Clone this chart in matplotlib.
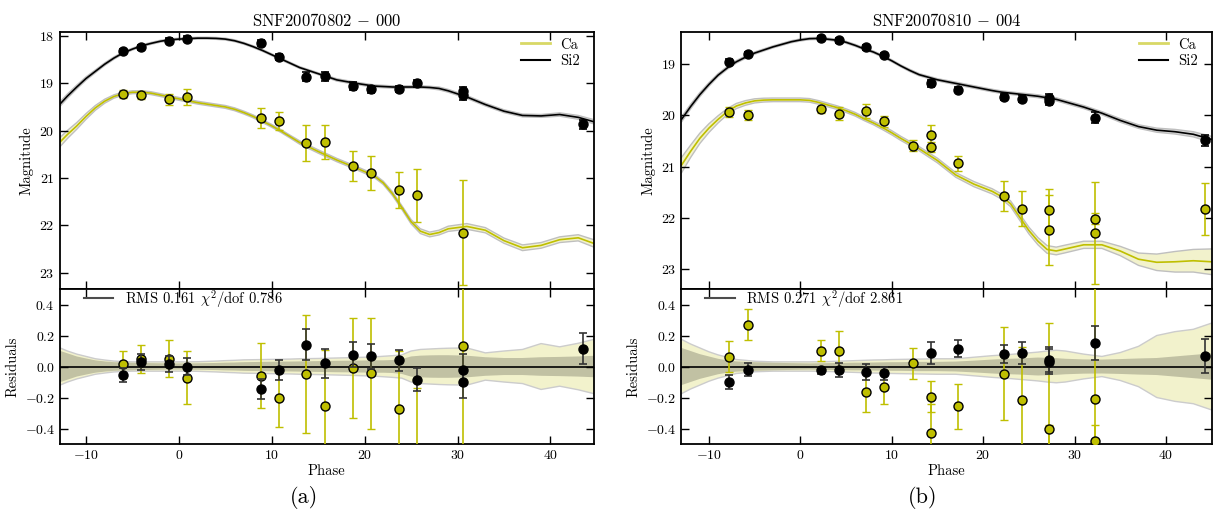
import numpy as np
import matplotlib
matplotlib.use("Agg")
import matplotlib.pyplot as plt

plt.rcParams.update({
    'font.family': 'serif',
    'font.serif': ['cmr10', 'DejaVu Serif'],
    'mathtext.fontset': 'cm',
    'axes.formatter.use_mathtext': True,
    'axes.unicode_minus': True,
})

# ---------------- model grid (phase) ----------------
grid = [-13, -12, -11, -10, -9, -8, -7, -6, -5, -4, -3, -2, -1, 0, 1, 2, 3, 4, 5, 6, 7, 8, 9, 10,
        11, 12, 13, 15, 17, 19, 21, 22, 23, 24, 25, 26, 27, 28, 29, 31, 33, 35, 37, 39, 41, 43, 45]

# ---------------- panel (a) SNF20070802-000 ----------------
a_title = r'SNF20070802 $-$ 000'
a_si_model = [19.48, 19.27, 19.08, 18.90, 18.75, 18.60, 18.47, 18.36, 18.28, 18.21, 18.16, 18.115,
              18.085, 18.07, 18.06, 18.05, 18.05, 18.055, 18.07, 18.105, 18.16, 18.23, 18.31, 18.40,
              18.49, 18.58, 18.67,
              18.80, 18.93, 19.00, 19.06, 19.07, 19.08, 19.08, 19.08, 19.08, 19.09, 19.11, 19.16,
              19.29, 19.45, 19.59, 19.68, 19.69, 19.66, 19.72, 19.83]
a_ca_model = [20.28, 20.08, 19.90, 19.70, 19.52, 19.38, 19.28, 19.22, 19.19, 19.19, 19.21, 19.25,
              19.29, 19.33, 19.37, 19.41, 19.44, 19.47, 19.50, 19.55, 19.62, 19.70, 19.80, 19.90,
              20.01, 20.13, 20.25,
              20.44, 20.62, 20.78, 20.95, 21.10, 21.33, 21.62, 21.92, 22.12, 22.19, 22.15, 22.07,
              22.02, 22.10, 22.32, 22.47, 22.42, 22.30, 22.26, 22.40]
a_si_band = [0.05, 0.045, 0.04, 0.035, 0.03, 0.028, 0.025, 0.022, 0.02, 0.02, 0.02, 0.02, 0.02,
             0.02, 0.02, 0.02, 0.02, 0.02, 0.02, 0.02, 0.02, 0.02, 0.02, 0.02, 0.02, 0.02, 0.02,
             0.02, 0.025, 0.025, 0.025, 0.025, 0.025, 0.025, 0.025, 0.025, 0.025, 0.03, 0.03,
             0.03, 0.03, 0.03, 0.03, 0.03, 0.035, 0.04, 0.045]
a_ca_band = [0.10, 0.085, 0.07, 0.06, 0.05, 0.042, 0.035, 0.032, 0.03, 0.03, 0.03, 0.03, 0.03,
             0.03, 0.03, 0.03, 0.03, 0.03, 0.03, 0.03, 0.03, 0.03, 0.03, 0.03, 0.03, 0.03, 0.035,
             0.035, 0.035, 0.035, 0.035, 0.035, 0.04, 0.04, 0.045, 0.05, 0.05, 0.05, 0.055,
             0.06, 0.055, 0.055, 0.06, 0.06, 0.06, 0.065, 0.08]
a_ca_rband = [0.125, 0.10, 0.08, 0.065, 0.05, 0.042, 0.035, 0.032, 0.03, 0.03, 0.03, 0.03, 0.03,
              0.03, 0.03, 0.031, 0.033, 0.035, 0.038, 0.04, 0.043, 0.044, 0.045, 0.046, 0.047,
              0.048, 0.05,
              0.052, 0.055, 0.058, 0.062, 0.066, 0.07, 0.075, 0.10, 0.11, 0.113, 0.116, 0.118,
              0.12, 0.088, 0.10, 0.11, 0.148, 0.127, 0.15, 0.18]
a_si_rband = [0.105, 0.085, 0.065, 0.052, 0.04, 0.033, 0.028, 0.026, 0.024, 0.023, 0.022, 0.021,
              0.02, 0.02, 0.02, 0.021, 0.022, 0.023, 0.025, 0.026, 0.028, 0.029, 0.03, 0.031,
              0.032, 0.032, 0.033,
              0.035, 0.037, 0.038, 0.04, 0.04, 0.042, 0.048, 0.065, 0.07, 0.072, 0.073, 0.073,
              0.07, 0.06, 0.055, 0.055, 0.06, 0.062, 0.065, 0.07]

a_si_phase = [-6.05, -4.07, -1.1, 0.86, 8.8, 10.8, 13.7, 15.7, 18.7, 20.7, 23.7, 25.6, 30.6, 30.6, 43.5]
a_si_mag = [18.32, 18.24, 18.10, 18.06, 18.15, 18.45, 18.86, 18.85, 19.06, 19.13, 19.12, 19.00,
            19.17, 19.25, 19.87]
a_si_err = [0.045, 0.05, 0.05, 0.055, 0.065, 0.065, 0.10, 0.095, 0.08, 0.08, 0.07, 0.075, 0.10, 0.10, 0.10]
a_si_res = [-0.052, 0.028, 0.015, -0.002, -0.144, -0.024, 0.142, 0.021, 0.075, 0.067, 0.039,
            -0.084, -0.10, -0.02, 0.116]

a_ca_phase = [-6.05, -4.07, -1.1, 0.86, 8.8, 10.8, 13.7, 15.7, 18.7, 20.7, 23.7, 25.6, 30.6]
a_ca_mag = [19.23, 19.25, 19.34, 19.30, 19.73, 19.79, 20.27, 20.24, 20.75, 20.89, 21.25, 21.36, 22.15]
a_ca_err = [0.09, 0.09, 0.12, 0.17, 0.21, 0.19, 0.38, 0.36, 0.32, 0.36, 0.38, 0.56, 1.1]
a_ca_res = [0.013, 0.05, 0.05, -0.073, -0.06, -0.20, -0.047, -0.254, -0.009, -0.045, -0.277, -0.70, 0.13]
a_stats = r'RMS 0.161 $\chi^2$/dof 0.786'

# ---------------- panel (b) SNF20070810-004 ----------------
b_title = r'SNF20070810 $-$ 004'
b_si_model = [20.08, 19.83, 19.60, 19.40, 19.22, 19.08, 18.96, 18.87, 18.79, 18.73, 18.67, 18.62,
              18.57, 18.535, 18.51, 18.505, 18.52, 18.54, 18.58, 18.64, 18.71, 18.77, 18.85, 18.94,
              19.04, 19.13, 19.21,
              19.31, 19.38, 19.45, 19.52, 19.55, 19.57, 19.59, 19.61, 19.63, 19.66, 19.69, 19.74,
              19.84, 19.96, 20.10, 20.22, 20.29, 20.32, 20.37, 20.47]
b_ca_model = [20.97, 20.70, 20.45, 20.25, 20.08, 19.93, 19.82, 19.76, 19.72, 19.705, 19.70, 19.70,
              19.70, 19.70, 19.71, 19.75, 19.80, 19.85, 19.91, 19.98, 20.07, 20.15, 20.24, 20.34,
              20.45, 20.55, 20.65,
              20.88, 21.16, 21.34, 21.48, 21.58, 21.72, 21.98, 22.24, 22.45, 22.61, 22.64, 22.60,
              22.52, 22.52, 22.64, 22.80, 22.86, 22.85, 22.83, 22.85]
b_si_band = [0.05, 0.045, 0.04, 0.035, 0.03, 0.028, 0.025, 0.024, 0.022, 0.021, 0.02, 0.02, 0.02,
             0.02, 0.02, 0.02, 0.02, 0.02, 0.02, 0.02, 0.02, 0.02, 0.02, 0.02, 0.02, 0.022, 0.022,
             0.022, 0.025, 0.025, 0.025, 0.025, 0.025, 0.025, 0.028, 0.028, 0.03, 0.03, 0.03,
             0.03, 0.03, 0.035, 0.035, 0.04, 0.045, 0.05, 0.06]
b_ca_band = [0.15, 0.12, 0.10, 0.085, 0.07, 0.06, 0.05, 0.045, 0.04, 0.037, 0.035, 0.035, 0.035,
             0.035, 0.035, 0.035, 0.035, 0.035, 0.035, 0.035, 0.035, 0.035, 0.04, 0.04, 0.04,
             0.04, 0.04,
             0.045, 0.045, 0.05, 0.05, 0.05, 0.055, 0.06, 0.065, 0.07, 0.075, 0.075, 0.075,
             0.07, 0.07, 0.09, 0.12, 0.16, 0.20, 0.22, 0.25]
b_ca_rband = [0.175, 0.145, 0.12, 0.095, 0.075, 0.06, 0.045, 0.04, 0.034, 0.032, 0.03, 0.03, 0.03,
              0.03, 0.03, 0.031, 0.032, 0.034, 0.036, 0.038, 0.04, 0.042, 0.043, 0.045, 0.046,
              0.047, 0.048,
              0.05, 0.05, 0.06, 0.07, 0.074, 0.078, 0.083, 0.088, 0.093, 0.10, 0.105, 0.10,
              0.08, 0.065, 0.09, 0.13, 0.20, 0.225, 0.24, 0.28]
b_si_rband = [0.12, 0.10, 0.08, 0.065, 0.05, 0.04, 0.033, 0.03, 0.028, 0.026, 0.024, 0.023, 0.022,
              0.021, 0.02, 0.021, 0.022, 0.023, 0.024, 0.025, 0.025, 0.026, 0.027, 0.028, 0.028,
              0.029, 0.03,
              0.03, 0.032, 0.038, 0.045, 0.048, 0.05, 0.052, 0.055, 0.058, 0.056, 0.054, 0.05,
              0.046, 0.045, 0.048, 0.052, 0.055, 0.065, 0.075, 0.085]

b_si_phase = [-7.76, -5.74, 2.24, 4.26, 7.2, 9.2, 14.26, 17.26, 22.28, 24.26, 27.26, 27.26, 32.28, 44.26]
b_si_mag = [18.96, 18.81, 18.49, 18.54, 18.68, 18.82, 19.38, 19.50, 19.64, 19.68, 19.67, 19.72,
            20.05, 20.49]
b_si_err = [0.045, 0.04, 0.025, 0.045, 0.05, 0.04, 0.07, 0.055, 0.06, 0.07, 0.08, 0.08, 0.11, 0.11]
b_si_res = [-0.10, -0.02, -0.025, -0.025, -0.035, -0.045, 0.085, 0.115, 0.08, 0.085, 0.045, 0.03,
            0.15, 0.07]

b_ca_phase = [-7.76, -5.74, 2.24, 4.26, 7.2, 9.2, 12.28, 14.26, 14.26, 17.26, 22.28, 24.26,
              27.26, 27.26, 32.28, 32.28, 44.26]
b_ca_mag = [19.94, 19.99, 19.88, 19.97, 19.92, 20.12, 20.59, 20.38, 20.62, 20.93, 21.57, 21.82,
            21.84, 22.23, 22.01, 22.29, 21.82]
b_ca_err = [0.10, 0.10, 0.07, 0.13, 0.13, 0.11, 0.10, 0.19, 0.10, 0.145, 0.30, 0.34, 0.40, 0.68,
            0.10, 1.0, 0.50]
b_ca_res = [0.062, 0.27, 0.103, 0.10, -0.165, -0.135, 0.02, -0.43, -0.195, -0.255, -0.048, -0.215,
            -0.78, -0.40, -0.48, -0.21, -1.02]
b_stats = r'RMS 0.271 $\chi^2$/dof 2.861'

panels = [
    dict(title=a_title, si_model=a_si_model, ca_model=a_ca_model, si_band=a_si_band, ca_band=a_ca_band,
         si_rband=a_si_rband, ca_rband=a_ca_rband, si_phase=a_si_phase, si_mag=a_si_mag, si_err=a_si_err,
         si_res=a_si_res, ca_phase=a_ca_phase, ca_mag=a_ca_mag, ca_err=a_ca_err, ca_res=a_ca_res,
         stats=a_stats, xlim=(-12.85, 44.7), ylim=(23.34, 17.92), yticks=[18, 19, 20, 21, 22, 23],
         left=0.0491, width=0.4402, caption='(a)', cx=0.25),
    dict(title=b_title, si_model=b_si_model, ca_model=b_ca_model, si_band=b_si_band, ca_band=b_ca_band,
         si_rband=b_si_rband, ca_rband=b_ca_rband, si_phase=b_si_phase, si_mag=b_si_mag, si_err=b_si_err,
         si_res=b_si_res, ca_phase=b_ca_phase, ca_mag=b_ca_mag, ca_err=b_ca_err, ca_res=b_ca_res,
         stats=b_stats, xlim=(-13.05, 45.05), ylim=(23.38, 18.38), yticks=[19, 20, 21, 22, 23],
         left=0.5610, width=0.4374, caption='(b)', cx=0.76),
]

fig = plt.figure(figsize=(12.14, 5.11), dpi=100)

Y = 'y'
top_b, top_h = 0.4344, 0.5030
bot_b, bot_h = 0.1311, 0.3033


def style(ax):
    ax.tick_params(direction='in', top=True, right=True, length=5.5, width=1, labelsize=10)
    for s in ax.spines.values():
        s.set_linewidth(1.3)


for p in panels:
    g = np.array(grid)
    axt = fig.add_axes([p['left'], top_b, p['width'], top_h])
    axb = fig.add_axes([p['left'], bot_b, p['width'], bot_h], sharex=axt)

    # ----- top: light curves -----
    sm = np.array(p['si_model']); sb = np.array(p['si_band'])
    cm = np.array(p['ca_model']); cb = np.array(p['ca_band'])
    axt.fill_between(g, cm - cb, cm + cb, facecolor=Y, alpha=0.2, edgecolor='none', zorder=1)
    axt.plot(g, cm - cb, color='0.75', lw=1, zorder=1)
    axt.plot(g, cm + cb, color='0.75', lw=1, zorder=1)
    axt.fill_between(g, sm - sb, sm + sb, facecolor='k', alpha=0.15, edgecolor='none', zorder=1)
    axt.plot(g, sm - sb, color='0.75', lw=1, zorder=1)
    axt.plot(g, sm + sb, color='0.75', lw=1, zorder=1)
    axt.plot(g, cm, color=Y, lw=1.2, zorder=2)
    axt.plot(g, sm, color='k', lw=1.2, zorder=2)

    axt.errorbar(p['ca_phase'], p['ca_mag'], yerr=p['ca_err'], fmt='o', color=Y, mfc=Y, mec='k',
                 mew=1, ms=6.5, ecolor=Y, elinewidth=1.2, capsize=3, capthick=1.2, zorder=3)
    axt.errorbar(p['si_phase'], p['si_mag'], yerr=p['si_err'], fmt='o', color='k', mfc='k', mec='k',
                 ms=6.5, ecolor='k', elinewidth=1.2, capsize=3, capthick=1.2, zorder=3)

    h1, = axt.plot([], [], color=Y, lw=2, alpha=0.6, label='Ca')
    h2, = axt.plot([], [], color='k', lw=1.5, label='Si2')
    axt.legend(handles=[h1, h2], loc='upper right', bbox_to_anchor=(0.985, 1.0), borderaxespad=0,
               frameon=False, fontsize=10.5, handlelength=2.0, handletextpad=0.7, labelspacing=0.2)

    axt.set_xlim(*p['xlim'])
    axt.set_ylim(*p['ylim'])
    axt.set_yticks(p['yticks'])
    axt.set_xticks([-10, 0, 10, 20, 30, 40])
    axt.set_ylabel('Magnitude', fontsize=10.5)
    axt.set_title(p['title'], fontsize=12, pad=4)
    style(axt)
    axt.tick_params(labelbottom=False)

    # ----- bottom: residuals -----
    crb = np.array(p['ca_rband']); srb = np.array(p['si_rband'])
    axb.fill_between(g, -crb, crb, facecolor=Y, alpha=0.2, edgecolor='none', zorder=1)
    axb.plot(g, -crb, color='0.8', lw=1, zorder=1)
    axb.plot(g, crb, color='0.8', lw=1, zorder=1)
    axb.fill_between(g, -srb, srb, facecolor='k', alpha=0.2, edgecolor='none', zorder=1)
    axb.axhline(0, color='k', lw=1.2, zorder=2)

    axb.errorbar(p['ca_phase'], p['ca_res'], yerr=p['ca_err'], fmt='o', color=Y, mfc=Y, mec='k',
                 mew=1, ms=6.5, ecolor=Y, elinewidth=1.2, capsize=3, capthick=1.2, zorder=3)
    axb.errorbar(p['si_phase'], p['si_res'], yerr=p['si_err'], fmt='o', color='k', mfc='k', mec='k',
                 ms=6.5, ecolor='0.2', elinewidth=1.2, capsize=3, capthick=1.2, zorder=4)

    h3, = axb.plot([], [], color='0.3', lw=1.5, label=p['stats'])
    axb.legend(handles=[h3], loc='upper left', bbox_to_anchor=(0.035, 1.045), borderaxespad=0,
               frameon=False, fontsize=10.5, handlelength=2.0, handletextpad=0.8)

    axb.set_ylim(-0.5, 0.5)
    axb.set_yticks([-0.4, -0.2, 0.0, 0.2, 0.4])
    axb.set_xlim(*p['xlim'])
    axb.set_ylabel('Residuals', fontsize=10.5)
    axb.set_xlabel('Phase', fontsize=10.5, labelpad=2)
    style(axb)

    fig.text(p['cx'], 0.026, p['caption'], ha='center', va='center', fontsize=16)

fig.savefig('out.png', dpi=100)
